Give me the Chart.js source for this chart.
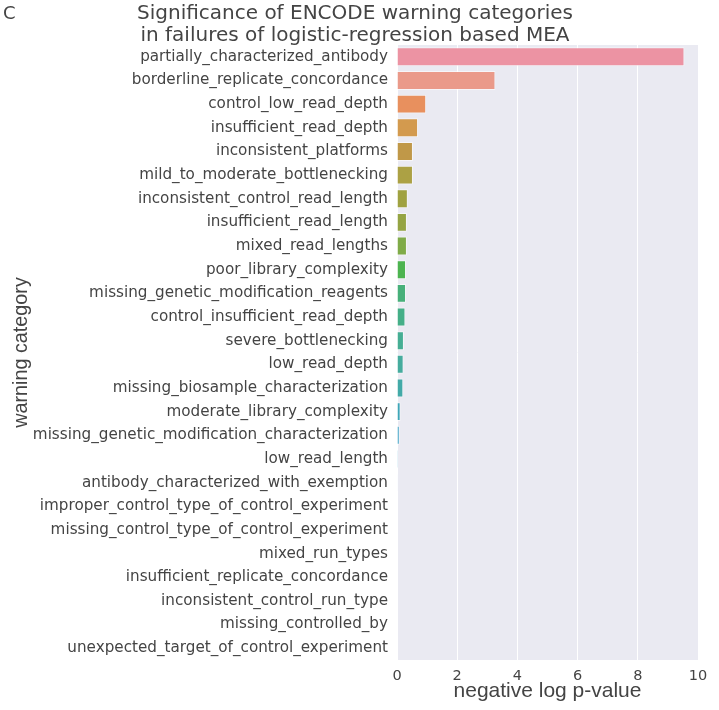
<!DOCTYPE html>
<html>
<head>
<meta charset="utf-8">
<script src="https://cdn.jsdelivr.net/npm/chart.js@4/dist/chart.umd.min.js"></script>
<style>
  html, body { margin: 0; padding: 0; background: #ffffff; }
  canvas { display: block; }
</style>
</head>
<body>
<canvas id="c" width="719" height="710"></canvas>
<script>
const categories = [
  "partially_characterized_antibody",
  "borderline_replicate_concordance",
  "control_low_read_depth",
  "insufficient_read_depth",
  "inconsistent_platforms",
  "mild_to_moderate_bottlenecking",
  "inconsistent_control_read_length",
  "insufficient_read_length",
  "mixed_read_lengths",
  "poor_library_complexity",
  "missing_genetic_modification_reagents",
  "control_insufficient_read_depth",
  "severe_bottlenecking",
  "low_read_depth",
  "missing_biosample_characterization",
  "moderate_library_complexity",
  "missing_genetic_modification_characterization",
  "low_read_length",
  "antibody_characterized_with_exemption",
  "improper_control_type_of_control_experiment",
  "missing_control_type_of_control_experiment",
  "mixed_run_types",
  "insufficient_replicate_concordance",
  "inconsistent_control_run_type",
  "missing_controlled_by",
  "unexpected_target_of_control_experiment"
];

const negLogPValues = [
  9.55, 3.27, 0.97, 0.70, 0.53, 0.53, 0.36, 0.33, 0.33, 0.30,
  0.30, 0.28, 0.23, 0.22, 0.21, 0.12, 0.09, 0.04, 0.01, 0,
  0, 0, 0, 0, 0, 0
];

const xTicks = [0, 2, 4, 6, 8, 10];

const barColors = [
  "#EC93A3", "#EA9A8A", "#E8905E", "#D39A4E", "#C09848", "#ACA144",
  "#A0A241", "#95A443", "#80AB48", "#4DB450", "#47B07A", "#45AF88",
  "#46AE94", "#46AC9E", "#43AAA8", "#3FA7B8", "#3DA4C7", "#8AC6E3",
  "#6FA8E0", "#8C9BE6", "#A58FE6", "#BC85E0", "#D07ED3", "#DF80C0",
  "#E687B2", "#EA8EA8"
];

const textColor = "#444444";
const fontFamily = "'DejaVu Sans', sans-serif";
const axisTitleFamily = "'Liberation Sans', Arial, sans-serif";

const bgPlugin = {
  id: 'plotBg',
  beforeDraw(chart) {
    const { ctx, chartArea } = chart;
    ctx.save();
    ctx.fillStyle = '#EAEAF2';
    ctx.fillRect(chartArea.left, chartArea.top, chartArea.right - chartArea.left, chartArea.bottom - chartArea.top);
    ctx.restore();
  }
};

const panelLabel = {
  id: 'panelLabel',
  afterDraw(chart) {
    const ctx = chart.ctx;
    ctx.save();
    ctx.fillStyle = textColor;
    ctx.font = "18px " + fontFamily;
    ctx.textBaseline = 'middle';
    ctx.textAlign = 'left';
    ctx.fillText("C", 3, 14);
    ctx.restore();
  }
};

new Chart(document.getElementById('c'), {
  type: 'bar',
  data: {
    labels: categories,
    datasets: [{
      data: negLogPValues,
      backgroundColor: barColors,
      borderColor: 'rgba(255,255,255,0.55)',
      borderWidth: 1,
      barPercentage: 0.8,
      categoryPercentage: 1.0
    }]
  },
  options: {
    indexAxis: 'y',
    responsive: false,
    animation: false,
    devicePixelRatio: 1,
    layout: { padding: { left: 12, right: 21, top: 0, bottom: 0 } },
    plugins: {
      legend: { display: false },
      tooltip: { enabled: false },
      title: {
        display: true,
        text: ["Significance of ENCODE warning categories", "in failures of logistic-regression based MEA"],
        color: textColor,
        font: { family: fontFamily, size: 20, weight: 'normal', lineHeight: 1.1 },
        padding: { top: 3, bottom: -2 }
      }
    },
    scales: {
      x: {
        type: 'linear',
        min: 0,
        max: 10,
        afterBuildTicks(scale) { scale.ticks = xTicks.map(v => ({ value: v })); },
        afterFit(scale) { scale.height = 50; },
        grid: { color: '#FFFFFF', lineWidth: 1, drawTicks: false },
        border: { display: false },
        ticks: { color: textColor, font: { family: fontFamily, size: 14.5 }, padding: 8 },
        title: {
          display: true,
          text: 'negative log p-value',
          color: textColor,
          font: { family: axisTitleFamily, size: 21 },
          padding: { top: 0, bottom: 6 }
        }
      },
      y: {
        afterFit(scale) { scale.width = 385; },
        grid: { display: false, drawTicks: false },
        border: { display: false },
        ticks: { color: textColor, font: { family: fontFamily, size: 15.2 }, padding: 9, autoSkip: false },
        title: {
          display: true,
          text: 'warning category',
          color: textColor,
          font: { family: axisTitleFamily, size: 19.8 },
          padding: { top: -2, bottom: 0 }
        }
      }
    }
  },
  plugins: [bgPlugin, panelLabel]
});
</script>
</body>
</html>
